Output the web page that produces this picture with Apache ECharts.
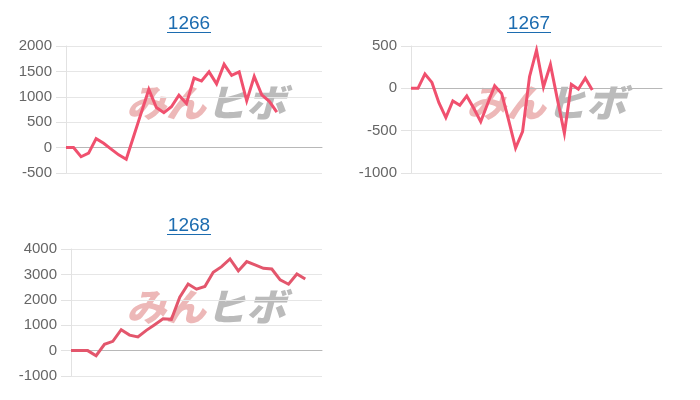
<!DOCTYPE html>
<html><head><meta charset="utf-8">
<script src="https://cdn.jsdelivr.net/npm/echarts@6/dist/echarts.min.js"></script>
<style>html,body{margin:0;padding:0;background:#fff}#c{width:700px;height:400px}</style>
</head><body><div id="c"></div>
<script>
// ---- data ----
const titles = ['1266', '1267', '1268'];
const categories1266 = Array.from({length: 35}, (_, i) => String(i + 1));
const categories1267 = Array.from({length: 37}, (_, i) => String(i + 1));
const categories1268 = Array.from({length: 31}, (_, i) => String(i + 1));
const values1266 = [0, 0, -180, -110, 176, 86, -30, -143, -228, 230, 688, 1145, 790, 686, 804, 1033, 870, 1370, 1310, 1490, 1255, 1640, 1420, 1490, 920, 1400, 1040, 910, 700];
const values1267 = [0, 0, 170, 70, -170, -345, -150, -200, -90, -236, -394, -180, 30, -60, -375, -705, -511, 137, 450, 15, 280, -130, -531, 47, -10, 120, -20];
const values1268 = [0, 0, 0, -200, 250, 366, 823, 610, 536, 797, 1019, 1250, 1230, 2100, 2620, 2418, 2522, 3083, 3306, 3606, 3136, 3502, 3371, 3241, 3214, 2783, 2613, 3018, 2822];
const yMin = [-500, -1000, -1000];
const yMax = [2000, 500, 4000];
const yStep = [500, 500, 1000];
const watermarkA = 'みん';
const watermarkB = 'ヒボ';

// ---- layout ----
const FONT = '"Liberation Sans", Arial, sans-serif';
const grids = [
  {left: 66, top: 46, width: 256, height: 127},
  {left: 411, top: 46, width: 251, height: 127},
  {left: 71, top: 249, width: 251, height: 127}
];
const titlePos = [[189, 24], [529, 24], [189, 226]];
const markPos = [[206, 103], [546, 103], [206, 307]];
const lineColors = ['#f0506e', '#f0506e', '#e3566c'];
const cats = [categories1266, categories1267, categories1268];
const vals = [values1266, values1267, values1268];

const chart = echarts.init(document.getElementById('c'), null, {renderer: 'canvas'});
const graphic = [];
titles.forEach((t, i) => {
  const [cx, cy] = titlePos[i];
  graphic.push({type: 'text', x: cx, y: cy, z: 10, style: {text: t, fill: '#1c6cb0', font: '19px ' + FONT, align: 'center', verticalAlign: 'middle'}});
  graphic.push({type: 'line', z: 10, shape: {x1: cx - 22, y1: cy + 8.5, x2: cx + 22, y2: cy + 8.5}, style: {stroke: '#1c6cb0', lineWidth: 1.2}});
  const [mx, my] = markPos[i];
  graphic.push({type: 'text', x: mx, y: my, z: -10, silent: true, scaleX: 1.05, style: {
    text: '{a|' + watermarkA + '}{b|' + watermarkB + '}', align: 'center', verticalAlign: 'middle',
    rich: {
      a: {fill: 'rgba(226,140,140,0.62)', fontSize: 38, fontWeight: 900, fontStyle: 'italic', fontFamily: '"Noto Sans CJK JP"',
          textStroke: 'rgba(226,140,140,0.62)', lineWidth: 2},
      b: {fill: 'rgba(170,170,170,0.8)', fontSize: 38, fontWeight: 900, fontStyle: 'italic', fontFamily: '"Noto Sans CJK JP"',
          textStroke: 'rgba(170,170,170,0.8)', lineWidth: 2}
    }
  }});
});

chart.setOption({
  animation: false,
  backgroundColor: '#fff',
  grid: grids,
  graphic: graphic,
  xAxis: grids.map((g, i) => ({
    type: 'category', gridIndex: i, data: cats[i], boundaryGap: false,
    axisLine: {onZero: true, lineStyle: {color: '#b8b8b8', width: 1}},
    axisTick: {show: false}, axisLabel: {show: false}, splitLine: {show: false}
  })),
  yAxis: grids.map((g, i) => ({
    type: 'value', gridIndex: i, min: yMin[i], max: yMax[i], interval: yStep[i],
    axisLine: {show: true, lineStyle: {color: '#e2e2e2'}},
    axisTick: {show: true, length: 10, lineStyle: {color: '#e2e2e2'}},
    splitLine: {show: true, lineStyle: {color: '#e6e6e6'}},
    axisLabel: {color: '#666', fontSize: 15, margin: 14, fontFamily: FONT, formatter: (v) => String(v)}
  })),
  series: vals.map((v, i) => ({
    type: 'line', xAxisIndex: i, yAxisIndex: i, data: v, symbol: 'none', z: 5,
    lineStyle: {width: 3, color: lineColors[i], join: 'miter'},
    itemStyle: {color: lineColors[i]}
  }))
});
</script>
</body></html>
